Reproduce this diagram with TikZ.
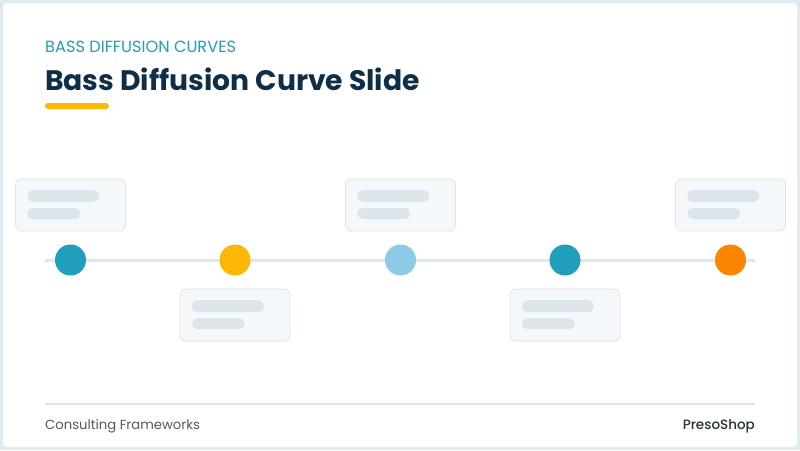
\documentclass[tikz,border=0pt]{standalone}
\usepackage{fontspec}
\setmainfont{Poppins}
\newfontfamily\brandfont{Poppins Medium}
\usetikzlibrary{positioning}
\definecolor{frame}{HTML}{DDEDEF}
\definecolor{navy}{HTML}{0E2F47}
\definecolor{teal}{HTML}{219EBC}
\definecolor{sun}{HTML}{FFB703}
\definecolor{sky}{HTML}{8ECAE6}
\definecolor{tangerine}{HTML}{FB8500}
\definecolor{cardfill}{HTML}{F4F8FA}
\definecolor{carddraw}{HTML}{DCE5EA}
\definecolor{barfill}{HTML}{DCE5EC}
\definecolor{rail}{HTML}{DCE8EC}
\definecolor{foot}{HTML}{4F5A63}
\definecolor{brandink}{HTML}{26313B}
\tikzstyle{milestone} = [circle, minimum size=31pt, inner sep=0pt]
\tikzstyle{card} = [rectangle, draw=carddraw, fill=cardfill, line width=0.8pt,
    rounded corners=6pt, minimum width=110pt, minimum height=52pt]
\tikzstyle{bar} = [rectangle, fill=barfill, rounded corners=5.5pt, inner sep=0pt, anchor=west]
\tikzstyle{longbar} = [bar, minimum width=72pt, minimum height=12pt]
\tikzstyle{shortbar} = [bar, minimum width=53pt, minimum height=11pt]
\tikzstyle{line} = [draw=rail, line width=3pt]

\begin{document}
\begin{tikzpicture}[x=1pt, y=-1pt, node distance=13pt]
	\useasboundingbox (0,0) rectangle (800,450);
	\fill[frame] (0,0) rectangle (800,450);
	\fill[white, rounded corners=4pt] (3,3) rectangle (797,447);

	% header
	\node[anchor=base west, inner sep=0pt, text=teal, font=\fontsize{16.2}{19}\selectfont] (kicker) at (45,52) {BASS DIFFUSION CURVES};
	\node[anchor=base west, inner sep=0pt, text=navy, font=\fontsize{28.2}{32}\selectfont\bfseries] (title) at (45,90) {Bass Diffusion Curve Slide};
	\fill[sun, rounded corners=3pt] (45,103) rectangle (109,109);

	% timeline
	\coordinate (railstart) at (45,260);
	\coordinate (railend) at (755,260);
	\path [line] (railstart) -- (railend);

	\node [milestone, fill=teal] (m1) at (70.5,260) {};
	\node [milestone, fill=sun] (m2) at (235,260) {};
	\node [milestone, fill=sky] (m3) at (400.5,260) {};
	\node [milestone, fill=teal] (m4) at (565,260) {};
	\node [milestone, fill=tangerine] (m5) at (730.5,260) {};

	\node [card, above=of m1] (c1) {};
	\node [card, below=of m2] (c2) {};
	\node [card, above=of m3] (c3) {};
	\node [card, below=of m4] (c4) {};
	\node [card, above=of m5] (c5) {};

	\node [longbar] (c1a) at ([xshift=12pt,yshift=-17.5pt]c1.north west) {};
	\node [shortbar] (c1b) at ([xshift=12pt,yshift=-35pt]c1.north west) {};
	\node [longbar] (c2a) at ([xshift=12pt,yshift=-17.5pt]c2.north west) {};
	\node [shortbar] (c2b) at ([xshift=12pt,yshift=-35pt]c2.north west) {};
	\node [longbar] (c3a) at ([xshift=12pt,yshift=-17.5pt]c3.north west) {};
	\node [shortbar] (c3b) at ([xshift=12pt,yshift=-35pt]c3.north west) {};
	\node [longbar] (c4a) at ([xshift=12pt,yshift=-17.5pt]c4.north west) {};
	\node [shortbar] (c4b) at ([xshift=12pt,yshift=-35pt]c4.north west) {};
	\node [longbar] (c5a) at ([xshift=12pt,yshift=-17.5pt]c5.north west) {};
	\node [shortbar] (c5b) at ([xshift=12pt,yshift=-35pt]c5.north west) {};

	% footer
	\coordinate (footstart) at (45,404);
	\coordinate (footend) at (755,404);
	\draw [rail, line width=2pt] (footstart) -- (footend);
	\node[anchor=base west, inner sep=0pt, text=foot, font=\fontsize{13.2}{16}\selectfont] (source) at (45,429) {Consulting Frameworks};
	\node[anchor=base east, inner sep=0pt, text=brandink, font=\fontsize{13.5}{16}\brandfont] (brand) at (755,429) {PresoShop};
\end{tikzpicture}
\end{document}
